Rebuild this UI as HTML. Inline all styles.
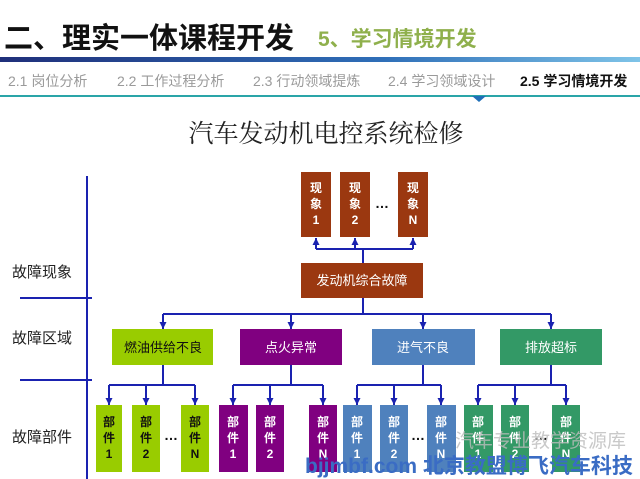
<!DOCTYPE html>
<html><head><meta charset="utf-8"><style>
body{margin:0;width:640px;height:479px;overflow:hidden;background:#fff;font-family:"Liberation Sans","Noto Sans CJK SC",sans-serif}
svg{display:block}
</style></head><body>
<svg width="640" height="479" viewBox="0 0 640 479" xmlns="http://www.w3.org/2000/svg" font-family="Liberation Sans, Noto Sans CJK SC, sans-serif">
<defs>
<linearGradient id="g" x1="0" x2="1"><stop offset="0" stop-color="#1f2f7a"/><stop offset="0.6" stop-color="#2f6fb8"/><stop offset="1" stop-color="#7fc4e8"/></linearGradient>
<marker id="a" markerWidth="7" markerHeight="7" refX="7" refY="3.5" orient="auto" markerUnits="userSpaceOnUse"><path d="M0,0 L7,3.5 L0,7 Z" fill="#1a22b0"/></marker>
</defs>
<text x="4" y="48" font-size="29" font-weight="bold" fill="#111">二、理实一体课程开发</text>
<text x="318" y="46" font-size="21" font-weight="bold" fill="#8fb04c">5、学习情境开发</text>
<rect x="0" y="57" width="640" height="5" fill="url(#g)"/>
<g font-size="14" fill="#9a9a9a">
<text x="8" y="86">2.1 岗位分析</text><text x="117" y="86">2.2 工作过程分析</text><text x="253" y="86">2.3 行动领域提炼</text><text x="388" y="86">2.4 学习领域设计</text>
</g>
<text x="520" y="86" font-size="14" font-weight="bold" fill="#111">2.5 学习情境开发</text>
<rect x="0" y="95" width="640" height="2" fill="#2aa5a8"/>
<path d="M472,96 L486,96 L479,102 Z" fill="#1f6fb8"/>
<text x="326" y="142" font-size="25" fill="#222" text-anchor="middle" font-family="Liberation Serif, Noto Serif CJK SC, serif">汽车发动机电控系统检修</text>
<g stroke="#1a22b0" stroke-width="2" fill="none">
<line x1="87" y1="176" x2="87" y2="479"/>
<line x1="20" y1="298" x2="92" y2="298"/>
<line x1="20" y1="380" x2="92" y2="380"/>
<line x1="363" y1="263" x2="363" y2="249"/>
<line x1="316" y1="249" x2="413" y2="249"/>
<line x1="316" y1="249" x2="316" y2="238" marker-end="url(#a)"/>
<line x1="355" y1="249" x2="355" y2="238" marker-end="url(#a)"/>
<line x1="413" y1="249" x2="413" y2="238" marker-end="url(#a)"/>
<line x1="363" y1="298" x2="363" y2="314"/>
<line x1="163" y1="314" x2="551" y2="314"/>
<line x1="163" y1="314" x2="163" y2="329" marker-end="url(#a)"/>
<line x1="291" y1="314" x2="291" y2="329" marker-end="url(#a)"/>
<line x1="423" y1="314" x2="423" y2="329" marker-end="url(#a)"/>
<line x1="551" y1="314" x2="551" y2="329" marker-end="url(#a)"/>
<line x1="163" y1="365" x2="163" y2="385"/><line x1="109" y1="385" x2="195" y2="385"/>
<line x1="109" y1="385" x2="109" y2="405" marker-end="url(#a)"/><line x1="146" y1="385" x2="146" y2="405" marker-end="url(#a)"/><line x1="195" y1="385" x2="195" y2="405" marker-end="url(#a)"/>
<line x1="291" y1="365" x2="291" y2="385"/><line x1="233" y1="385" x2="323" y2="385"/>
<line x1="233" y1="385" x2="233" y2="405" marker-end="url(#a)"/><line x1="270" y1="385" x2="270" y2="405" marker-end="url(#a)"/><line x1="323" y1="385" x2="323" y2="405" marker-end="url(#a)"/>
<line x1="423" y1="365" x2="423" y2="385"/><line x1="357" y1="385" x2="441" y2="385"/>
<line x1="357" y1="385" x2="357" y2="405" marker-end="url(#a)"/><line x1="394" y1="385" x2="394" y2="405" marker-end="url(#a)"/><line x1="441" y1="385" x2="441" y2="405" marker-end="url(#a)"/>
<line x1="551" y1="365" x2="551" y2="385"/><line x1="478" y1="385" x2="566" y2="385"/>
<line x1="478" y1="385" x2="478" y2="405" marker-end="url(#a)"/><line x1="515" y1="385" x2="515" y2="405" marker-end="url(#a)"/><line x1="566" y1="385" x2="566" y2="405" marker-end="url(#a)"/>
</g>
<g font-size="15" fill="#222"><text x="12" y="277">故障现象</text><text x="12" y="343">故障区域</text><text x="12" y="442">故障部件</text></g>
<g fill="#9b3810">
<rect x="301" y="172" width="30" height="65"/><rect x="340" y="172" width="30" height="65"/><rect x="398" y="172" width="30" height="65"/>
<rect x="301" y="263" width="122" height="35"/>
</g>
<g fill="#fff" font-size="12" font-weight="bold" text-anchor="middle">
<text x="316" y="192">现</text><text x="316" y="208">象</text><text x="316" y="224">1</text>
<text x="355" y="192">现</text><text x="355" y="208">象</text><text x="355" y="224">2</text>
<text x="413" y="192">现</text><text x="413" y="208">象</text><text x="413" y="224">N</text>
</g>
<text x="382" y="208" font-size="14" font-weight="bold" fill="#111" text-anchor="middle">…</text>
<text x="362" y="285" font-size="13" fill="#fff" text-anchor="middle">发动机综合故障</text>
<rect x="112" y="329" width="101" height="36" fill="#99cc00"/>
<rect x="240" y="329" width="102" height="36" fill="#800080"/>
<rect x="372" y="329" width="103" height="36" fill="#4f81bd"/>
<rect x="500" y="329" width="102" height="36" fill="#339966"/>
<text x="163" y="352" font-size="13" fill="#111" text-anchor="middle">燃油供给不良</text>
<text x="291" y="352" font-size="13" fill="#fff" text-anchor="middle">点火异常</text>
<text x="423" y="352" font-size="13" fill="#fff" text-anchor="middle">进气不良</text>
<text x="551" y="352" font-size="13" fill="#fff" text-anchor="middle">排放超标</text>
<g fill="#99cc00"><rect x="96" y="405" width="26" height="67"/><rect x="132" y="405" width="28" height="67"/><rect x="181" y="405" width="28" height="67"/></g>
<g fill="#800080"><rect x="219" y="405" width="29" height="67"/><rect x="256" y="405" width="28" height="67"/><rect x="309" y="405" width="28" height="67"/></g>
<g fill="#4f81bd"><rect x="343" y="405" width="29" height="67"/><rect x="380" y="405" width="28" height="67"/><rect x="427" y="405" width="29" height="67"/></g>
<g fill="#339966"><rect x="464" y="405" width="29" height="67"/><rect x="501" y="405" width="28" height="67"/><rect x="552" y="405" width="28" height="67"/></g>
<g font-size="12" font-weight="bold" text-anchor="middle" fill="#111">
<text x="109" y="426">部</text><text x="109" y="442">件</text><text x="109" y="458">1</text>
<text x="146" y="426">部</text><text x="146" y="442">件</text><text x="146" y="458">2</text>
<text x="195" y="426">部</text><text x="195" y="442">件</text><text x="195" y="458">N</text>
</g>
<g font-size="12" font-weight="bold" text-anchor="middle" fill="#fff">
<text x="233" y="426">部</text><text x="233" y="442">件</text><text x="233" y="458">1</text>
<text x="270" y="426">部</text><text x="270" y="442">件</text><text x="270" y="458">2</text>
<text x="323" y="426">部</text><text x="323" y="442">件</text><text x="323" y="458">N</text>
<text x="357" y="426">部</text><text x="357" y="442">件</text><text x="357" y="458">1</text>
<text x="394" y="426">部</text><text x="394" y="442">件</text><text x="394" y="458">2</text>
<text x="441" y="426">部</text><text x="441" y="442">件</text><text x="441" y="458">N</text>
<text x="478" y="426">部</text><text x="478" y="442">件</text><text x="478" y="458">1</text>
<text x="515" y="426">部</text><text x="515" y="442">件</text><text x="515" y="458">2</text>
<text x="566" y="426">部</text><text x="566" y="442">件</text><text x="566" y="458">N</text>
</g>
<g font-size="14" font-weight="bold" fill="#111" text-anchor="middle"><text x="171" y="440">…</text><text x="418" y="440">…</text><text x="541" y="440">…</text></g>
<text x="455" y="447" font-size="19" fill="#bbb" fill-opacity="0.8">汽车专业教学资源库</text>
<text x="305" y="473" font-size="21" font-weight="bold" fill="#3a6cc4">bjjmbf.com 北京教盟博飞汽车科技</text>
</svg>
</body></html>
